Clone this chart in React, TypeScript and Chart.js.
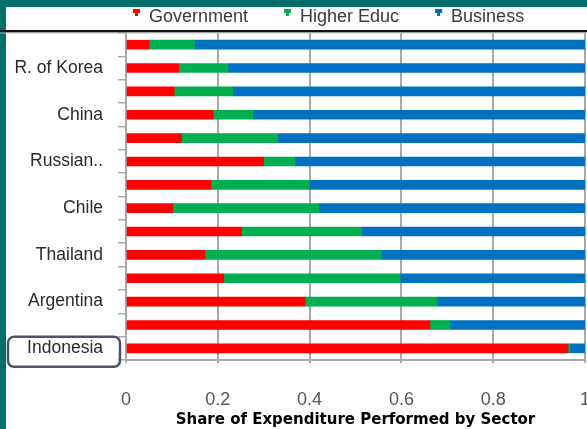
import React, { useEffect, useRef } from 'react';
import { Chart, registerables } from 'chart.js';
Chart.register(...registerables);

const countries = ['', 'R. of Korea', '', 'China', '', 'Russian..', '', 'Chile', '', 'Thailand', '', 'Argentina', '', 'Indonesia'];
const government = [0.05, 0.115, 0.105, 0.19, 0.121, 0.30, 0.185, 0.102, 0.252, 0.172, 0.213, 0.39, 0.662, 0.963];
const higherEduc = [0.099, 0.107, 0.128, 0.087, 0.209, 0.068, 0.214, 0.318, 0.261, 0.384, 0.384, 0.288, 0.044, 0.004];
const business = [0.851, 0.778, 0.767, 0.723, 0.670, 0.632, 0.601, 0.580, 0.487, 0.444, 0.403, 0.322, 0.294, 0.033];
const xTicks = [0, 0.2, 0.4, 0.6, 0.8, 1];
const xTickLabels = ['0', '0.2', '0.4', '0.6', '0.8', '1'];
const seriesNames = ['Government', 'Higher Educ', 'Business'];
const seriesColors = ['#ff0000', '#00b050', '#0070c0'];
const highlighted = 'Indonesia';
const xTitle = 'Share of Expenditure Performed by Sector';

const FONT = '"Liberation Sans", Arial, sans-serif';
const GRID = '#a9a9a9';

const framePlugin = {
  id: 'frame',
  beforeDraw(chart: any) {
    const { ctx, width, height } = chart;
    ctx.save();
    ctx.fillStyle = '#006e69';
    ctx.fillRect(0, 0, width, height);
    ctx.fillStyle = '#ffffff';
    ctx.fillRect(6, 7, width - 6, height - 7);
    ctx.restore();
  },
  afterDraw(chart: any) {
    const { ctx, width, chartArea } = chart;
    ctx.save();
    // top black rule
    ctx.fillStyle = '#111111';
    ctx.fillRect(0, chartArea.top - 3, width, 2.5);
    ctx.fillStyle = '#bdbdbd';
    ctx.fillRect(0, chartArea.top - 0.5, width, 1);

    // highlighted label box
    const y = chart.scales.y;
    const idx = countries.indexOf(highlighted);
    const cy = y.getPixelForValue(idx);
    const bx = 8, bw = 112, by = cy - 11.5, bh = 30, r = 6;
    ctx.strokeStyle = '#4b5371';
    ctx.lineWidth = 2.5;
    ctx.beginPath();
    ctx.moveTo(bx + r, by);
    ctx.lineTo(bx + bw - r, by);
    ctx.arcTo(bx + bw, by, bx + bw, by + r, r);
    ctx.lineTo(bx + bw, by + bh - r);
    ctx.arcTo(bx + bw, by + bh, bx + bw - r, by + bh, r);
    ctx.lineTo(bx + r, by + bh);
    ctx.arcTo(bx, by + bh, bx, by + bh - r, r);
    ctx.lineTo(bx, by + r);
    ctx.arcTo(bx, by, bx + r, by, r);
    ctx.closePath();
    ctx.stroke();

    // legend
    ctx.font = '18px ' + FONT;
    ctx.textBaseline = 'middle';
    ctx.textAlign = 'left';
    let lx = 133;
    chart.data.datasets.forEach((ds: any) => {
      ctx.fillStyle = ds.backgroundColor;
      ctx.fillRect(lx, 9, 7, 4);
      ctx.fillRect(lx + 2, 12, 3, 4);
      ctx.fillStyle = '#3a3a3a';
      ctx.fillText(ds.label, lx + 16, 17);
      lx += 16 + ctx.measureText(ds.label).width + 36;
    });
    ctx.restore();
  },
};

export default function App() {
  const ref = useRef<HTMLCanvasElement>(null);
  useEffect(() => {
    document.body.style.margin = '0';
    const chart = new Chart(ref.current!, {
      type: 'bar',
      data: {
        labels: countries,
        datasets: [government, higherEduc, business].map((d, i) => ({
          label: seriesNames[i],
          data: d,
          backgroundColor: seriesColors[i],
          borderWidth: 0,
          barThickness: 9,
        })),
      },
      options: {
        indexAxis: 'y',
        animation: false,
        responsive: false,
        devicePixelRatio: 1,
        layout: { padding: { top: 33, right: 2, left: 0, bottom: 0 } },
        plugins: { legend: { display: false }, tooltip: { enabled: false } },
        scales: {
          x: {
            stacked: true,
            min: 0,
            max: 1,
            afterBuildTicks: (s: any) => { s.ticks = xTicks.map((v) => ({ value: v })); },
            afterFit: (s: any) => { s.height = 69; s.paddingLeft = 0; s.paddingRight = 0; },
            grid: { color: GRID, lineWidth: 2, tickLength: 3 },
            border: { color: GRID, width: 2 },
            ticks: {
              font: { family: FONT, size: 18 },
              color: '#555555',
              padding: 26,
              maxRotation: 0,
              callback: (_v: any, i: number) => xTickLabels[i],
            },
            title: {
              display: true,
              text: xTitle,
              font: { family: '"DejaVu Sans", sans-serif', size: 15, weight: 'bold' },
              color: '#000000',
              padding: { top: 0, bottom: 0 },
            },
          },
          y: {
            stacked: true,
            afterFit: (s: any) => { s.width = 126; },
            grid: { drawOnChartArea: false, drawTicks: true, tickLength: 8, color: GRID, lineWidth: 1.5, offset: true },
            border: { color: GRID, width: 2 },
            ticks: { autoSkip: false, font: { family: FONT, size: 17.5 }, color: '#2a2a2a', padding: 15 },
          },
        },
      },
      plugins: [framePlugin],
    } as any);
    return () => chart.destroy();
  }, []);
  return (
    <div style={{ width: 587, height: 429 }}>
      <canvas ref={ref} width={587} height={429} style={{ display: 'block' }} />
    </div>
  );
}
